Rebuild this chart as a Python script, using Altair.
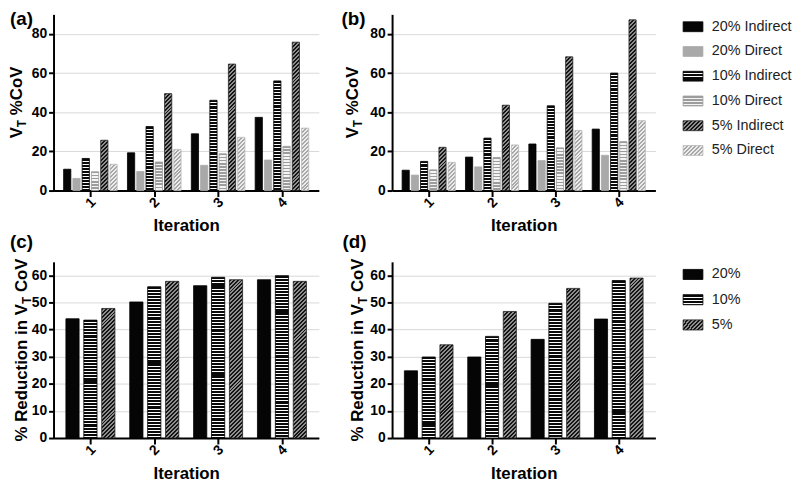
import json
import altair as alt
import pandas as pd

FONT = "Liberation Sans"

iterations = ["1", "2", "3", "4"]
series_ab = ["20% Indirect", "20% Direct", "10% Indirect", "10% Direct", "5% Indirect", "5% Direct"]
series_cd = ["20%", "10%", "5%"]

# Panel (a): VT %CoV per iteration
a_20_indirect = [10.9, 19.3, 29.0, 37.4]
a_20_direct = [6.2, 9.7, 12.9, 15.6]
a_10_indirect = [16.4, 32.7, 46.1, 56.0]
a_10_direct = [9.6, 14.6, 18.8, 22.6]
a_5_indirect = [25.7, 49.5, 64.6, 75.8]
a_5_direct = [13.4, 21.0, 27.2, 31.9]

# Panel (b): VT %CoV per iteration
b_20_indirect = [10.4, 17.1, 23.8, 31.4]
b_20_direct = [7.9, 12.1, 15.3, 18.0]
b_10_indirect = [14.9, 26.8, 43.3, 60.0]
b_10_direct = [10.6, 16.9, 21.8, 25.0]
b_5_indirect = [22.1, 43.6, 68.3, 87.2]
b_5_direct = [14.4, 23.3, 30.7, 35.7]

# Panel (c): % reduction in VT CoV
c_20 = [44.0, 50.2, 56.2, 58.4]
c_10 = [43.5, 55.8, 59.3, 59.9]
c_5 = [47.8, 57.8, 58.4, 57.8]

# Panel (d): % reduction in VT CoV
d_20 = [24.8, 29.9, 36.4, 43.9]
d_10 = [29.9, 37.5, 49.7, 58.1]
d_5 = [34.4, 46.7, 55.2, 59.0]

ticks_ab = [0, 20, 40, 60, 80]
ticks_cd = [0, 10, 20, 30, 40, 50, 60]

# ---------------- styles (patterns) ----------------
PATTERNS = {
    "solid_black": {"kind": "solid", "color": "#050505", "stroke": "#000000"},
    "solid_gray": {"kind": "solid", "color": "#a9a9a9", "stroke": "#a9a9a9"},
    "h_dark": {"kind": "h", "c1": "#0a0a0a", "c2": "#ffffff", "frac": 0.68, "period": 3.1, "stroke": "#000000"},
    "h_light": {"kind": "h", "c1": "#9c9c9c", "c2": "#f4f4f4", "frac": 0.5, "period": 3.1, "stroke": "#9c9c9c"},
    "d_dark": {"kind": "d", "c1": "#151515", "c2": "#8e8e8e", "frac": 0.5, "period": 4.0, "stroke": "#222222"},
    "d_light": {"kind": "d", "c1": "#a8a8a8", "c2": "#ececec", "frac": 0.5, "period": 4.0, "stroke": "#b8b8b8"},
}
STYLE_OF = {
    "20% Indirect": "solid_black", "20% Direct": "solid_gray",
    "10% Indirect": "h_dark", "10% Direct": "h_light",
    "5% Indirect": "d_dark", "5% Direct": "d_light",
    "20%": "solid_black", "10%": "h_dark", "5%": "d_dark",
}


def stops(c1, c2, frac, period, L):
    out = []
    k = 0
    while k * period < L:
        o0 = k * period / L
        o1 = min((k * period + frac * period) / L, 1.0)
        o2 = min((k + 1) * period / L, 1.0)
        out += [{"offset": round(o0, 5), "color": c1}, {"offset": round(o1, 5), "color": c1},
                {"offset": round(o1, 5), "color": c2}, {"offset": round(o2, 5), "color": c2}]
        k += 1
    return out


def pattern_value(name, h, w, L):
    p = PATTERNS[name]
    if p["kind"] == "solid":
        return json.dumps(p["color"])
    if p["kind"] == "h":
        st = json.dumps(stops(p["c1"], p["c2"], p["frac"], p["period"], L), separators=(",", ":"))
        return '{"gradient":"linear","x1":1,"x2":1,"y1":0,"y2":%g/(%s),"stops":%s}' % (L, h, st)
    D = L + w
    st = json.dumps(stops(p["c1"], p["c2"], p["frac"], p["period"], D), separators=(",", ":"))
    den = "(%g+(%s)*(%s))" % (w * w, h, h)
    return '{"gradient":"linear","x1":0,"y1":0,"x2":%g/%s,"y2":%g*(%s)/%s,"stops":%s}' % (D * w, den, D, h, den, st)


def fill_expr(series, h, w, L):
    expr = pattern_value(STYLE_OF[series[-1]], h, w, L)
    for s in reversed(series[:-1]):
        expr = "datum.series == %s ? %s : (%s)" % (json.dumps(s), pattern_value(STYLE_OF[s], h, w, L), expr)
    return expr


def stroke_expr(series):
    expr = json.dumps(PATTERNS[STYLE_OF[series[-1]]]["stroke"])
    for s in reversed(series[:-1]):
        expr = "datum.series == %s ? %s : (%s)" % (json.dumps(s), json.dumps(PATTERNS[STYLE_OF[s]]["stroke"]), expr)
    return expr


# Arial/Liberation Sans Bold advance widths (per 1000 em)
BOLD_W = {" ": 278, "%": 889, "C": 722, "o": 611, "V": 667, "T": 611, "R": 722, "e": 556,
          "d": 611, "u": 611, "c": 556, "t": 333, "i": 278, "n": 611}


def text_w(t, fs):
    return sum(BOLD_W.get(ch, 600) for ch in t) * fs / 1000.0


def long_df(series, cols):
    rows = []
    for si, (s, vals) in enumerate(zip(series, cols)):
        for ii, (it, v) in enumerate(zip(iterations, vals)):
            rows.append({"iteration": it, "it": ii + 1, "series": s, "sidx": si, "value": v})
    return pd.DataFrame(rows)


def title_layers(parts, H, x):
    widths = [text_w(t, fs) for t, fs, sub in parts]
    total = sum(widths)
    y = H / 2 + total / 2
    layers = []
    for (t, fs, sub), w in zip(parts, widths):
        lead = text_w(t[: len(t) - len(t.lstrip())], fs)
        layers.append(
            alt.Chart(pd.DataFrame({"t": [t.strip()]}))
            .mark_text(angle=270, align="left", baseline="alphabetic", fontSize=fs,
                       fontWeight="bold", font=FONT, color="black")
            .encode(x=alt.value(x + (4 if sub else 0)), y=alt.value(y - lead), text="t:N")
        )
        y -= w
    return layers


def panel(df, series, ymax, yticks, W, H, group_frac, bar_frac, label, label_xy, parts, title_x, xtitle_pad):
    n = len(series)
    step = W / 4.0                       # px per iteration
    pitch_u = group_frac / (n - (1 - bar_frac))   # offset between bars, in iteration units
    barw = pitch_u * bar_frac * step      # bar width in px
    K = H / float(ymax)
    h = "datum.value*%g" % K
    bars = alt.Chart(df).transform_calculate(
        pos="datum.it + (datum.sidx - %g) * %g" % ((n - 1) / 2.0, pitch_u)
    ).mark_bar(strokeWidth=0.8, width=barw, orient="vertical").encode(
        x=alt.X("pos:Q", scale=alt.Scale(domain=[0.5, 4.5], nice=False, zero=False),
                axis=alt.Axis(title="Iteration", values=[1, 2, 3, 4], format="d",
                              labelAngle=-45, labelAlign="center", labelBaseline="middle",
                              labelFontSize=14, labelFontWeight="bold", labelPadding=6,
                              tickSize=6, tickWidth=2, domainWidth=2, titleFontSize=17,
                              titleFontWeight="bold", titlePadding=xtitle_pad, grid=False)),
        y=alt.Y("value:Q", stack=None,
                scale=alt.Scale(domain=[0, ymax], nice=False, zero=True),
                axis=alt.Axis(values=yticks, title=None, labelFontSize=14, labelFontWeight="bold",
                              labelPadding=2, tickSize=5, tickWidth=2, domainWidth=2, grid=True,
                              gridColor="#d9d9d9", gridWidth=1)),
        fill=alt.value({"expr": fill_expr(series, h, barw, H)}),
        stroke=alt.value({"expr": stroke_expr(series)}),
    )
    lab = alt.Chart(pd.DataFrame({"t": [label]})).mark_text(
        align="left", baseline="top", fontSize=19, fontWeight="bold", font=FONT, color="black"
    ).encode(x=alt.value(label_xy[0]), y=alt.value(label_xy[1]), text="t:N")
    return alt.layer(bars, lab, *title_layers(parts, H, title_x)).properties(width=W, height=H)


def legend(series, pitch, dx):
    n = len(series)
    df = pd.DataFrame({"series": series, "idx": list(range(n))})
    base = alt.Chart(df).transform_calculate(
        y0="datum.idx+0.3", y1="datum.idx+0.7", ym="datum.idx+0.5")
    ysc = alt.Scale(domain=[0, n], reverse=True, nice=False, zero=False)
    sw = base.mark_rect(strokeWidth=0.8).encode(
        x=alt.value(dx), x2=alt.value(dx + 20),
        y=alt.Y("y0:Q", scale=ysc, axis=None), y2="y1:Q",
        fill=alt.value({"expr": fill_expr(series, "10", 20, 10)}),
        stroke=alt.value({"expr": stroke_expr(series)}),
    )
    tx = base.mark_text(align="left", baseline="middle", fontSize=14.5, font=FONT, color="#222222").encode(
        x=alt.value(dx + 29), y=alt.Y("ym:Q", scale=ysc, axis=None), text="series:N")
    return alt.layer(sw, tx).properties(width=40, height=pitch * n)


df_a = long_df(series_ab, [a_20_indirect, a_20_direct, a_10_indirect, a_10_direct, a_5_indirect, a_5_direct])
df_b = long_df(series_ab, [b_20_indirect, b_20_direct, b_10_indirect, b_10_direct, b_5_indirect, b_5_direct])
df_c = long_df(series_cd, [c_20, c_10, c_5])
df_d = long_df(series_cd, [d_20, d_10, d_5])

title_ab = [("V", 17, False), ("T", 12, True), (" %CoV", 17, False)]
title_cd = [("% Reduction in V", 17, False), ("T", 12, True), (" CoV", 17, False)]

pa = panel(df_a, series_ab, 90, ticks_ab, 268, 178, 0.835, 0.75, "(a)", (-44, -4), title_ab, -32, 8)
pb = panel(df_b, series_ab, 90, ticks_ab, 266, 178, 0.835, 0.75, "(b)", (-51, -4), title_ab, -34, 8)
pc = panel(df_c, series_cd, 65, ticks_cd, 268, 178, 0.76, 0.71, "(c)", (-44, -29), title_cd, -27, 8)
pd_ = panel(df_d, series_cd, 65, ticks_cd, 266, 178, 0.76, 0.71, "(d)", (-50, -29), title_cd, -29, 8)

# legend cells start 74 px right of panel (b)/(d); swatches drawn 46 px further left
chart = alt.concat(
    pa, pb, legend(series_ab, 25, -46),
    pc, pd_, legend(series_cd, 25.5, -46),
    columns=3, spacing=alt.RowColnumber(row=72, column=74), bounds="flush",
).properties(padding=0).configure(
    font=FONT
).configure_view(stroke=None).configure_axis(
    labelFont=FONT, titleFont=FONT, labelColor="black", titleColor="black",
    domainColor="black", tickColor="black"
)

chart.save("out.html", embed_options={"renderer": "svg", "actions": False})
